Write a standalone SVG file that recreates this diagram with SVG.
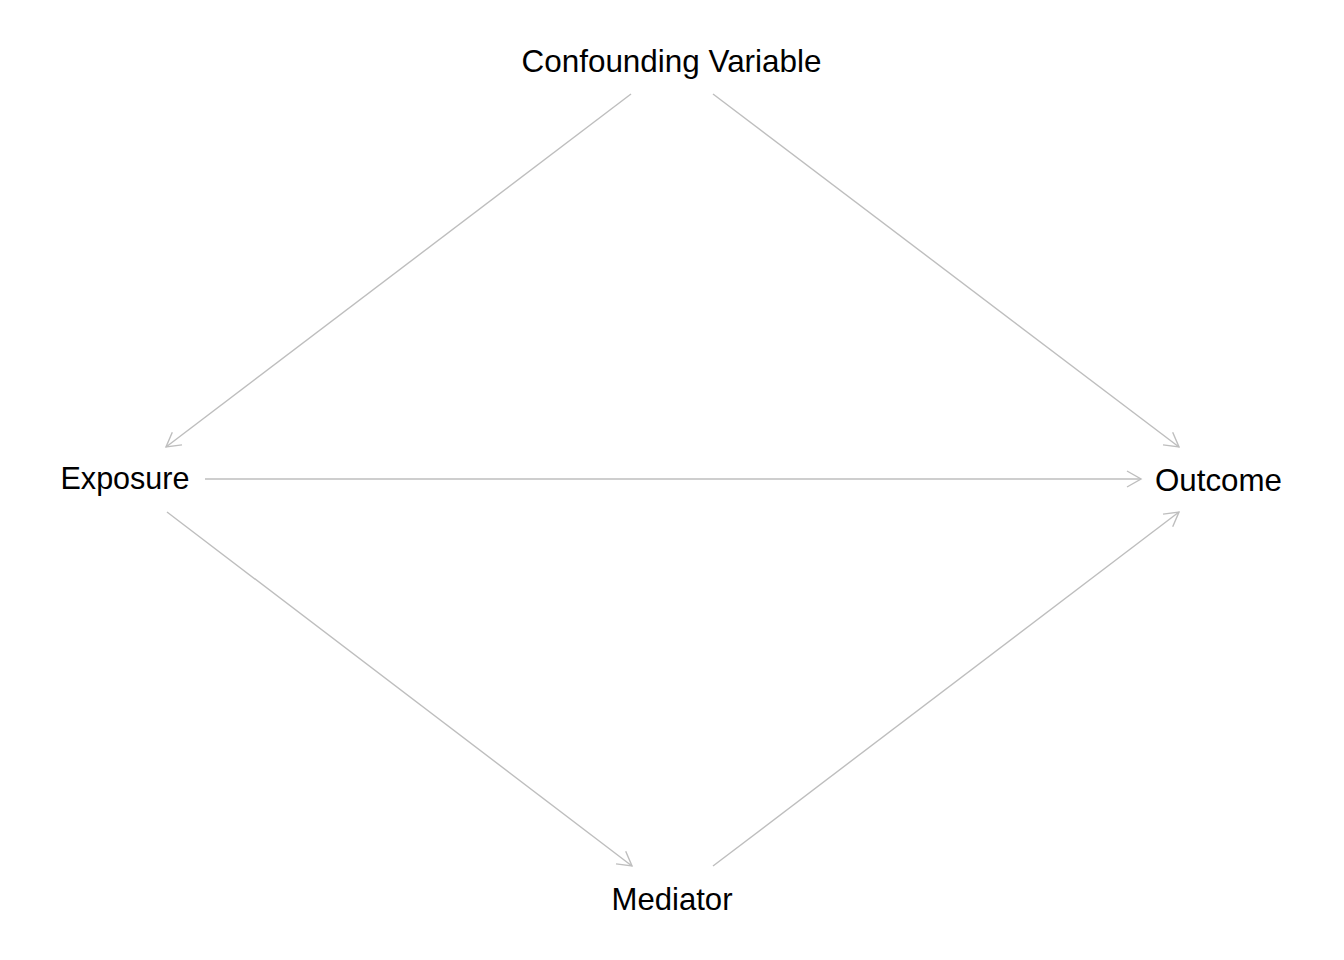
<svg xmlns="http://www.w3.org/2000/svg" width="1344" height="960" viewBox="0 0 1344 960">
<style>
.lbl{font-family:"Liberation Sans",Arial,sans-serif;font-size:30.5px;fill:#000;text-anchor:middle}
.edge{stroke:#BEBEBE;stroke-width:1.4;fill:none;marker-end:url(#arr)}
</style>
<defs>
<marker id="arr" markerUnits="userSpaceOnUse" markerWidth="20" markerHeight="20" viewBox="-16 -10 20 20" refX="0" refY="0" orient="auto">
<path d="M-14,-8 L0,0 L-14,8" fill="none" stroke="#BEBEBE" stroke-width="1.4"/>
</marker>
</defs>
<rect width="1344" height="960" fill="#fff"/>
<g id="connectors">
<line class="edge" x1="631" y1="94" x2="166" y2="447"/>
<line class="edge" x1="713" y1="94" x2="1179" y2="447"/>
<line class="edge" x1="205" y1="479" x2="1141" y2="479"/>
<line class="edge" x1="167" y1="512" x2="632" y2="866"/>
<line class="edge" x1="713" y1="866" x2="1179" y2="512"/>
</g>
<g id="confounder"><text class="lbl" x="671.5" y="72" textLength="300" lengthAdjust="spacingAndGlyphs">Confounding Variable</text></g>
<g id="exposure"><text class="lbl" x="125" y="489" textLength="129" lengthAdjust="spacingAndGlyphs">Exposure</text></g>
<g id="outcome"><text class="lbl" x="1218.5" y="491" textLength="127" lengthAdjust="spacingAndGlyphs">Outcome</text></g>
<g id="mediator"><text class="lbl" x="672" y="910" textLength="121" lengthAdjust="spacingAndGlyphs">Mediator</text></g>
</svg>
